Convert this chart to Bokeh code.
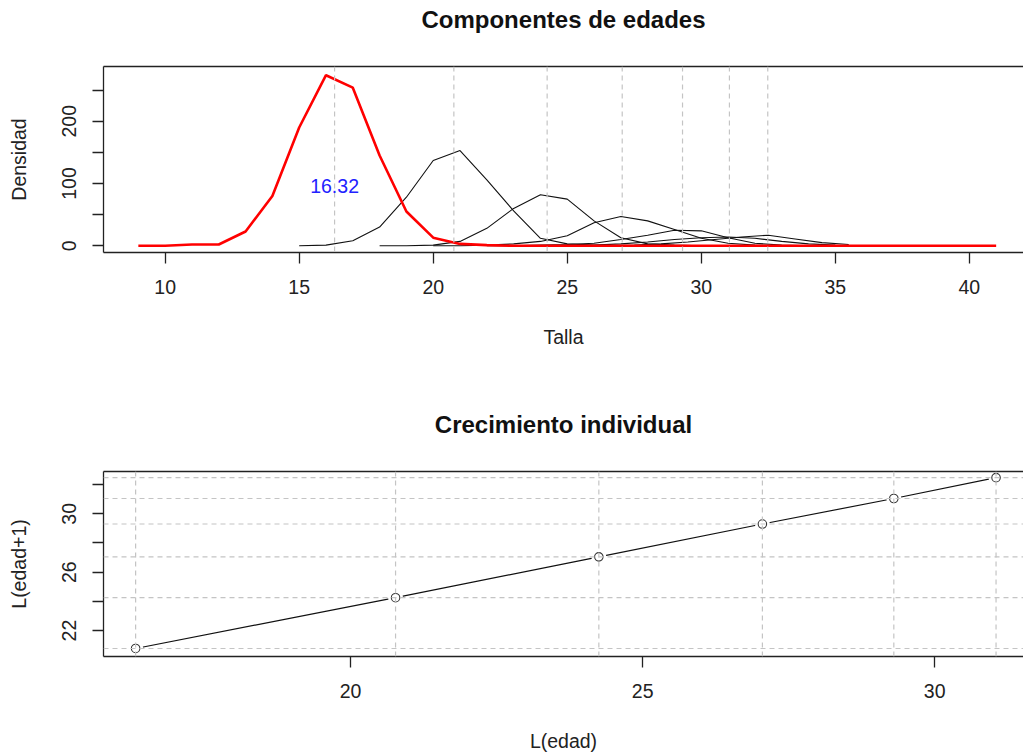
from bokeh.plotting import figure
from bokeh.layouts import column
from bokeh.models import FixedTicker, Span, Label, Range1d, LinearAxis
from bokeh.embed import file_html
from bokeh.resources import INLINE

FONT = "Liberation Sans"

# ---------------- data ----------------
talla = list(range(9, 42))
dens_edad1 = [0, 0, 2, 2, 23, 80, 190, 274, 254, 145, 55, 13, 3, 1,
              0, 0, 0, 0, 0, 0, 0, 0, 0, 0, 0, 0, 0, 0, 0, 0, 0, 0, 0]

x_edad2 = [15, 16, 17, 18, 19, 20, 21, 22, 23, 24, 25, 26, 27]
dens_edad2 = [0, 1, 8, 30, 78, 137, 153, 106, 56, 12, 3, 1, 0]

x_edad3 = [18, 19, 20, 21, 22, 23, 24, 25, 26, 27, 28, 29, 30]
dens_edad3 = [0, 0, 1, 7, 28, 60, 82, 75, 40, 13, 3, 1, 0]

x_edad4 = [20, 21, 22, 23, 24, 25, 26, 27, 28, 29, 30, 31, 32, 33]
dens_edad4 = [0, 0, 1, 3, 7, 16, 37, 47, 40, 26, 12, 4, 1, 0]

x_edad5 = [22, 23, 24, 25, 26, 27, 28, 29, 30, 31, 32, 33, 34]
dens_edad5 = [0, 0, 1, 2, 4, 10, 17, 25, 24, 13, 4, 1, 0]

x_edad6 = [25, 26, 27, 28, 29, 30, 31, 32, 33, 34, 35]
dens_edad6 = [0, 1, 3, 6, 10, 13, 14, 12, 7, 3, 1]

x_edad7 = [26.5, 27.5, 28.5, 29.5, 30.5, 31.5, 32.5, 33.5, 34.5, 35.5]
dens_edad7 = [0, 1, 3, 6, 10, 14, 17, 11, 5, 2]

medias = [16.32, 20.77, 24.25, 27.05, 29.30, 31.05, 32.48]
etiqueta_media = "16.32"

l_edad = [16.32, 20.77, 24.25, 27.05, 29.30, 31.05]
l_edad1 = [20.77, 24.25, 27.05, 29.30, 31.05, 32.48]

ticks_talla = [10, 15, 20, 25, 30, 35, 40]
ticks_dens = [0, 50, 100, 150, 200, 250]
etiquetas_dens = {50: "", 150: "", 250: ""}
ticks_l = [20, 25, 30]
ticks_l1 = [22, 24, 26, 28, 30, 32]
etiquetas_l1 = {24: "", 28: "", 32: ""}

titulo1 = "Componentes de edades"
titulo2 = "Crecimiento individual"

AX = "#222222"
GRID = "#C4C4C4"


def style_axes(p, xticks, yticks, yover, xlabel, ylabel):
    p.xgrid.visible = False
    p.ygrid.visible = False
    p.outline_line_color = None
    xa = p.below[0]
    ya = p.left[0]
    for ax in (xa, ya):
        ax.axis_line_color = AX
        ax.axis_line_width = 1.3
        ax.major_tick_line_color = AX
        ax.major_tick_line_width = 1.3
        ax.major_tick_out = 11
        ax.major_tick_in = 0
        ax.minor_tick_out = 0
        ax.minor_tick_in = 0
        ax.major_label_text_font = FONT
        ax.major_label_text_font_size = "19.5px"
        ax.major_label_text_color = AX
        ax.axis_label_text_font = FONT
        ax.axis_label_text_font_size = "19.5px"
        ax.axis_label_text_font_style = "normal"
        ax.axis_label_text_color = AX
    xa.ticker = FixedTicker(ticks=xticks)
    xa.major_label_standoff = 16
    xa.axis_label = xlabel
    xa.axis_label_standoff = 29
    ya.ticker = FixedTicker(ticks=yticks)
    ya.major_label_overrides = yover
    ya.major_label_orientation = "vertical"
    ya.major_label_standoff = 16
    ya.axis_label = ylabel
    ya.axis_label_standoff = 30
    # top side of the box (its right side lies outside the picture); its one
    # invisible tick keeps the title clear of the box
    top = LinearAxis(ticker=FixedTicker(ticks=[xticks[0]]), major_tick_out=34,
                     major_tick_in=0, minor_tick_out=0, minor_tick_in=0,
                     major_tick_line_color=None, major_label_standoff=0,
                     major_label_text_font_size="0px",
                     major_label_overrides={xticks[0]: ""},
                     axis_line_color=AX, axis_line_width=1.3)
    p.add_layout(top, "above")


def style_title(p, text):
    p.title.text = text
    p.title.align = "center"
    p.title.offset = 3
    p.title.text_font = FONT
    p.title.text_font_size = "24px"
    p.title.text_font_style = "bold"
    p.title.text_color = "#111111"
    p.title.vertical_align = "bottom"
    p.title.standoff = 0


# ---------------- top plot ----------------
p1 = figure(width=1023, height=370, output_backend="svg", toolbar_location=None,
            x_range=Range1d(7.70, 42.02), y_range=Range1d(-10.8, 288),
            min_border_left=103, min_border_right=0, min_border_top=66,
            min_border_bottom=118)
style_title(p1, titulo1)
style_axes(p1, ticks_talla, ticks_dens, etiquetas_dens, "Talla", "Densidad")

for m in medias:
    p1.add_layout(Span(location=m, dimension="height", line_color=GRID,
                       line_dash="5 4", line_width=1.2))

for xs, ys in [(x_edad2, dens_edad2), (x_edad3, dens_edad3), (x_edad4, dens_edad4),
               (x_edad5, dens_edad5), (x_edad6, dens_edad6), (x_edad7, dens_edad7)]:
    p1.line(xs, ys, line_color="#111111", line_width=1.1)

p1.line(talla, dens_edad1, line_color="#FF0000", line_width=2.6)

p1.add_layout(Label(x=medias[0], y=96, text=etiqueta_media, text_align="center",
                    text_baseline="middle", text_color="#2222FF",
                    text_font=FONT, text_font_size="19.5px"))

# ---------------- bottom plot ----------------
p2 = figure(width=1023, height=386, output_backend="svg", toolbar_location=None,
            x_range=Range1d(15.77, 31.52), y_range=Range1d(20.22, 32.9),
            min_border_left=103, min_border_right=0, min_border_top=101,
            min_border_bottom=100)
style_title(p2, titulo2)
style_axes(p2, ticks_l, ticks_l1, etiquetas_l1, "L(edad)", "L(edad+1)")

for v in l_edad:
    p2.add_layout(Span(location=v, dimension="height", line_color=GRID,
                       line_dash="5 4", line_width=1.2))
for v in l_edad1:
    p2.add_layout(Span(location=v, dimension="width", line_color=GRID,
                       line_dash="5 4", line_width=1.2))

p2.line(l_edad, l_edad1, line_color="#111111", line_width=1.2)
p2.scatter(l_edad, l_edad1, size=15, fill_color="white", line_color=None)
p2.scatter(l_edad, l_edad1, size=8.5, fill_color="white", line_color="#333333",
           line_width=1.1)

layout = column(p1, p2, spacing=0)
open("out.html", "w").write(file_html(layout, INLINE))
